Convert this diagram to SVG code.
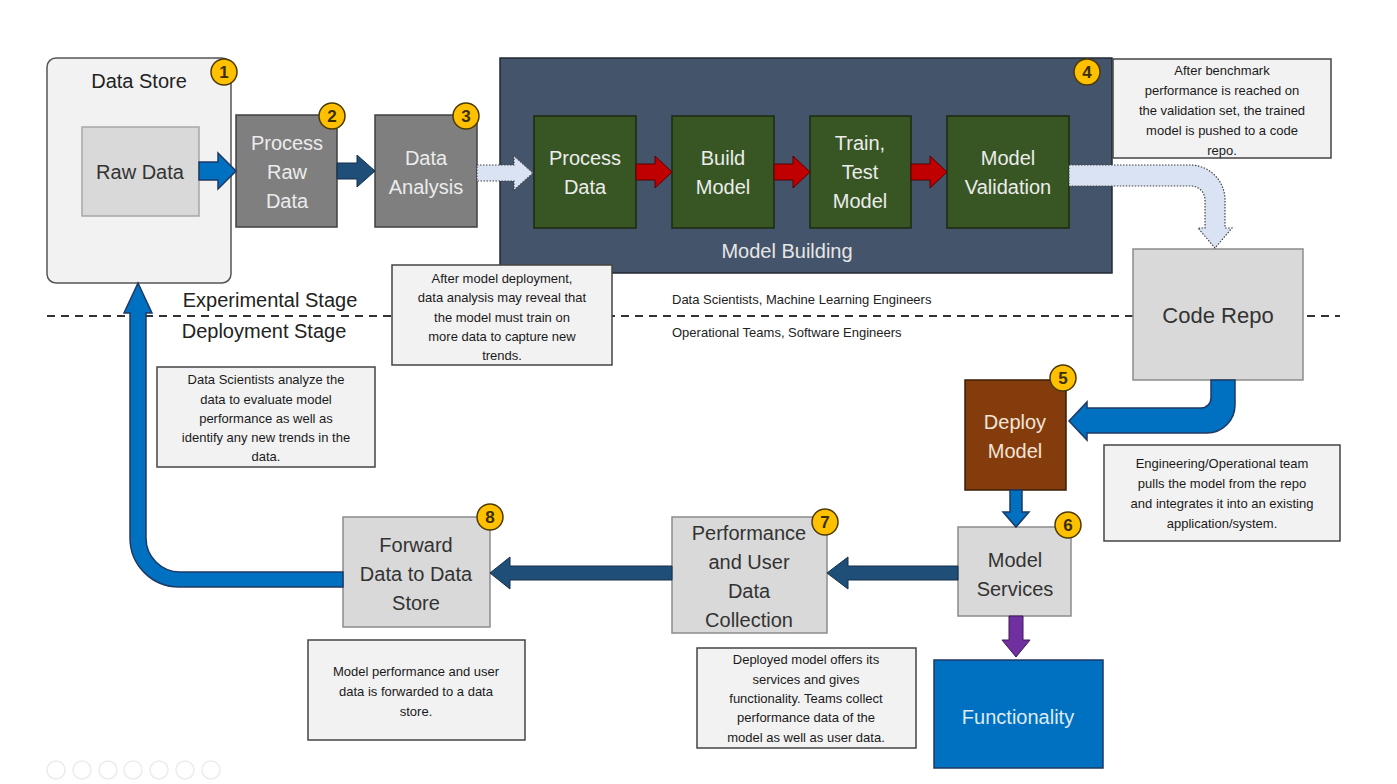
<svg xmlns="http://www.w3.org/2000/svg" width="1397" height="784" viewBox="0 0 1397 784">
<style>
text{font-family:"Liberation Sans",Arial,sans-serif;text-anchor:middle;}
.lbl{font-size:20px;}
.dk{fill:#333;}
.lt{fill:#ececec;}
.grn{fill:#375623;stroke:#1b2a11;stroke-width:1.5;}
.gray{fill:#d9d9d9;stroke:#8c8c8c;stroke-width:1.5;}
.dgray{fill:#7f7f7f;stroke:#404040;stroke-width:1.5;}
.note{fill:#f2f2f2;stroke:#444;stroke-width:1.5;}
.nt{font-size:13px;fill:#1a1a1a;}
.badge circle{fill:#ffc000;stroke:#4d3a00;stroke-width:1.5;}
.badge text{font-size:17px;font-weight:bold;fill:#3a2e00;}
.red{fill:#c00000;stroke:#5a0000;stroke-width:1;}
.dblue{fill:#1f4e79;stroke:#142f4a;stroke-width:1;}
.blue{fill:#0070c0;stroke:#1f3864;stroke-width:1.5;}
.dot{fill:#dae3f3;stroke:#444;stroke-width:1.2;stroke-dasharray:1.5 1.5;}
.stage{font-size:20px;fill:#222;}
.role{font-size:13px;fill:#222;text-anchor:start;}
</style>

<!-- divider -->
<line x1="47" y1="316" x2="1340" y2="316" stroke="#333" stroke-width="2" stroke-dasharray="8 6"/>

<g id="stage-labels">
<text class="stage" x="270" y="307">Experimental Stage</text>
<text class="stage" x="264" y="338">Deployment Stage</text>
<text class="role" x="672" y="304">Data Scientists, Machine Learning Engineers</text>
<text class="role" x="672" y="337">Operational Teams, Software Engineers</text>
</g>

<g id="data-store">
<rect x="47" y="58" width="184" height="225" rx="9" fill="#f2f2f2" stroke="#555" stroke-width="1.5"/>
<text class="lbl" x="139" y="88" fill="#222">Data Store</text>
<g class="badge"><circle cx="224" cy="72" r="13"/><text x="224" y="78">1</text></g>
</g>

<g id="raw-data">
<rect x="82" y="127" width="117" height="89" fill="#d9d9d9" stroke="#a6a6a6" stroke-width="1.5"/>
<text class="lbl dk" x="140" y="179">Raw Data</text>
</g>

<g id="process-raw-data">
<rect class="dgray" x="236" y="115" width="101" height="112"/>
<text class="lbl lt" x="287" y="150">Process</text>
<text class="lbl lt" x="287" y="179">Raw</text>
<text class="lbl lt" x="287" y="208">Data</text>
<g class="badge"><circle cx="332" cy="116" r="13"/><text x="332" y="122">2</text></g>
</g>

<g id="data-analysis">
<rect class="dgray" x="375" y="115" width="102" height="112"/>
<text class="lbl lt" x="426" y="165">Data</text>
<text class="lbl lt" x="426" y="194">Analysis</text>
<g class="badge"><circle cx="466" cy="116" r="13"/><text x="466" y="122">3</text></g>
</g>

<g id="model-building">
<rect x="500" y="58" width="612" height="215" fill="#44546a" stroke="#222a35" stroke-width="1.5"/>
<text class="lbl" x="787" y="258" fill="#e7e6e6">Model Building</text>
<g class="badge"><circle cx="1087" cy="72" r="13"/><text x="1087" y="78">4</text></g>
</g>

<g id="process-data">
<rect class="grn" x="534" y="116" width="102" height="112"/>
<text class="lbl lt" x="585" y="165">Process</text>
<text class="lbl lt" x="585" y="194">Data</text>
</g>
<g id="build-model">
<rect class="grn" x="672" y="116" width="102" height="112"/>
<text class="lbl lt" x="723" y="165">Build</text>
<text class="lbl lt" x="723" y="194">Model</text>
</g>
<g id="train-test-model">
<rect class="grn" x="810" y="116" width="101" height="112"/>
<text class="lbl lt" x="860" y="150">Train,</text>
<text class="lbl lt" x="860" y="179">Test</text>
<text class="lbl lt" x="860" y="208">Model</text>
</g>
<g id="model-validation">
<rect class="grn" x="947" y="116" width="122" height="112"/>
<text class="lbl lt" x="1008" y="165">Model</text>
<text class="lbl lt" x="1008" y="194">Validation</text>
</g>

<g id="code-repo">
<rect class="gray" x="1133" y="249" width="170" height="131"/>
<text x="1218" y="323" font-size="22" fill="#333">Code Repo</text>
</g>

<g id="deploy-model">
<rect x="965" y="380" width="101" height="110" fill="#843c0c" stroke="#3d1c06" stroke-width="1.5"/>
<text class="lbl" x="1015" y="429" fill="#f4e4d8">Deploy</text>
<text class="lbl" x="1015" y="458" fill="#f4e4d8">Model</text>
<g class="badge"><circle cx="1063" cy="378" r="13"/><text x="1063" y="384">5</text></g>
</g>

<g id="model-services">
<rect class="gray" x="958" y="527" width="113" height="89"/>
<text class="lbl dk" x="1015" y="567">Model</text>
<text class="lbl dk" x="1015" y="596">Services</text>
<g class="badge"><circle cx="1068" cy="525" r="13"/><text x="1068" y="531">6</text></g>
</g>

<g id="functionality">
<rect x="934" y="660" width="169" height="108" fill="#0070c0" stroke="#1f3864" stroke-width="1.5"/>
<text class="lbl" x="1018" y="724" fill="#ddebf7">Functionality</text>
</g>

<g id="performance-collection">
<rect class="gray" x="672" y="517" width="155" height="116"/>
<text class="lbl dk" x="749" y="540">Performance</text>
<text class="lbl dk" x="749" y="569">and User</text>
<text class="lbl dk" x="749" y="598">Data</text>
<text class="lbl dk" x="749" y="627">Collection</text>
<g class="badge"><circle cx="825" cy="522" r="13"/><text x="825" y="528">7</text></g>
</g>

<g id="forward-data">
<rect class="gray" x="343" y="517" width="147" height="110"/>
<text class="lbl dk" x="416" y="552">Forward</text>
<text class="lbl dk" x="416" y="581">Data to Data</text>
<text class="lbl dk" x="416" y="610">Store</text>
<g class="badge"><circle cx="490" cy="517" r="13"/><text x="490" y="523">8</text></g>
</g>

<g id="note-benchmark">
<rect class="note" x="1113" y="59" width="218" height="99"/>
<text class="nt" x="1222" y="75">After benchmark</text>
<text class="nt" x="1222" y="95">performance is reached on</text>
<text class="nt" x="1222" y="115">the validation set, the trained</text>
<text class="nt" x="1222" y="135">model is pushed to a code</text>
<text class="nt" x="1222" y="155">repo.</text>
</g>

<g id="note-retrain">
<rect class="note" x="392" y="265" width="220" height="100"/>
<text class="nt" x="502" y="283">After model deployment,</text>
<text class="nt" x="502" y="302">data analysis may reveal that</text>
<text class="nt" x="502" y="322">the model must train on</text>
<text class="nt" x="502" y="341">more data to capture new</text>
<text class="nt" x="502" y="360">trends.</text>
</g>

<g id="note-analyze">
<rect class="note" x="157" y="367" width="218" height="100"/>
<text class="nt" x="266" y="384">Data Scientists analyze the</text>
<text class="nt" x="266" y="404">data to evaluate model</text>
<text class="nt" x="266" y="423">performance as well as</text>
<text class="nt" x="266" y="442">identify any new trends in the</text>
<text class="nt" x="266" y="461">data.</text>
</g>

<g id="note-engineering">
<rect class="note" x="1104" y="445" width="236" height="96"/>
<text class="nt" x="1222" y="468">Engineering/Operational team</text>
<text class="nt" x="1222" y="488">pulls the model from the repo</text>
<text class="nt" x="1222" y="508">and integrates it into an existing</text>
<text class="nt" x="1222" y="528">application/system.</text>
</g>

<g id="note-deployed">
<rect class="note" x="697" y="648" width="219" height="100"/>
<text class="nt" x="806" y="664">Deployed model offers its</text>
<text class="nt" x="806" y="684">services and gives</text>
<text class="nt" x="806" y="703">functionality. Teams collect</text>
<text class="nt" x="806" y="722">performance data of the</text>
<text class="nt" x="806" y="742">model as well as user data.</text>
</g>

<g id="note-forward">
<rect class="note" x="308" y="640" width="217" height="100"/>
<text class="nt" x="416" y="676">Model performance and user</text>
<text class="nt" x="416" y="696">data is forwarded to a data</text>
<text class="nt" x="416" y="716">store.</text>
</g>

<g id="connectors">
<path class="blue" d="M199,162 H218 V153 L236,171 L218,189 V180 H199 Z"/>
<path class="dblue" d="M337,163 H357 V155 L375,171 L357,187 V179 H337 Z"/>
<path class="dot" d="M477,165 H514 V156 L533,173 L514,190 V181 H477 Z"/>
<path class="red" d="M636,164 H655 V156 L672,172 L655,188 V180 H636 Z"/>
<path class="red" d="M774,164 H793 V156 L810,172 L793,188 V180 H774 Z"/>
<path class="red" d="M911,164 H930 V156 L947,172 L930,188 V180 H911 Z"/>
<path class="dot" d="M1069,165 H1190 A35,35 0 0 1 1225,200 V228 H1232 L1215,248 L1198,228 H1205 V200 A14,14 0 0 0 1191,186 H1069 Z"/>
<path class="blue" d="M1235,380 V405 A28,28 0 0 1 1207,433 H1087 V440 L1069,421 L1087,402 V408 H1201 A10,10 0 0 0 1211,398 V380 Z"/>
<path class="blue" d="M1010,490 V512 H1003 L1016,527 L1029,512 H1022 V490 Z"/>
<path d="M1009,616 V640 H1002 L1016,657 L1030,640 H1023 V616 Z" fill="#7030a0" stroke="#3c1a57" stroke-width="1"/>
<path class="dblue" d="M958,566 H848 V557 L827,573 L848,589 V580 H958 Z"/>
<path class="dblue" d="M672,566 H510 V557 L490,573 L510,589 V580 H672 Z"/>
<path class="blue" d="M343,572 H180 A34,34 0 0 1 146,538 V313 H152 L138,283 L124,313 H130 V538 A49,49 0 0 0 179,587 H343 Z"/>
</g>

<g id="controls" fill="none" stroke="#ececec" stroke-width="1.5">
<circle cx="56" cy="770" r="9"/><circle cx="82" cy="770" r="9"/><circle cx="108" cy="770" r="9"/><circle cx="133" cy="770" r="9"/><circle cx="159" cy="770" r="9"/><circle cx="185" cy="770" r="9"/><circle cx="211" cy="770" r="9"/>
</g>
</svg>
